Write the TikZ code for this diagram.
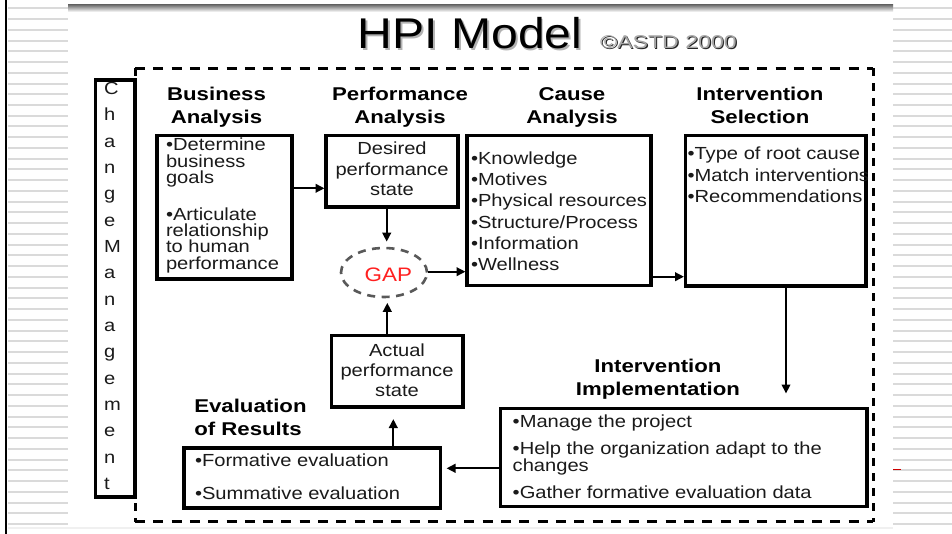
\documentclass[tikz,border=0pt]{standalone}
\usepackage{fontspec}
\setmainfont{Liberation Sans}
\newfontfamily\bodyf[FakeStretch=1.15]{Liberation Sans}
\newfontfamily\headf[FakeStretch=1.2]{Liberation Sans}
\newfontfamily\titlef[FakeStretch=1.12]{Liberation Sans}
\newfontfamily\astdf[FakeStretch=1.25]{Liberation Sans}
\usetikzlibrary{arrows.meta,shapes.geometric,calc}
\definecolor{txtgray}{HTML}{1A1A1A}
\definecolor{stripegray}{HTML}{DADADA}
\definecolor{gapred}{HTML}{FF2020}
\newcommand\tightls{\lineskiplimit-30pt\relax}
\begin{document}
\begin{tikzpicture}[x=1pt,y=-1pt,
  box/.style={draw=black, line width=3.2pt, inner sep=0pt, outer sep=0pt},
  body/.style={inner sep=0pt, outer sep=0pt, text=txtgray,
    font={\bodyf\fontsize{17.5}{#1}\selectfont\tightls}},
  head/.style={inner sep=0pt, outer sep=0pt, text=black, align=center,
    font={\headf\bfseries\fontsize{18.5}{23.3}\selectfont\tightls}},
  arr/.style={line width=2.3pt, -{Triangle[length=9pt,width=8.5pt]}},
  dashh/.style={line width=3pt, dash pattern=on 10pt off 8.3pt},
  dashv/.style={line width=3pt, dash pattern=on 8pt off 7pt},
  stripe/.style={line width=2pt, stripegray}
]
\useasboundingbox (0,0) rectangle (952,534);
\fill[white] (0,0) rectangle (952,534);

% ---- background frame ----
\fill[black] (4.8,0) rectangle (7.2,534);
\foreach \i in {0,...,48} {
  \draw[stripe] (8,{8.3+10.745*\i}) -- (68,{8.3+10.745*\i});
  \draw[stripe] (893,{8.3+10.745*\i}) -- (952,{8.3+10.745*\i});
}
\shade[top color=black!55, bottom color=white] (68,5) rectangle (893,12);
\draw[line width=1.2pt, gray!12] (8,528) -- (893,528);
\draw[line width=1pt, red!80!black] (893,469) -- (901,469);

% ---- title ----
\node[anchor=base, inner sep=0pt, text=gray!60, font=\titlef\fontsize{43}{48}\selectfont] (titlesh) at (471.8,50.1) {HPI Model};
\node[anchor=base, inner sep=0pt, text=black, font=\titlef\fontsize{43}{48}\selectfont] (title) at (470,48.3) {HPI Model};
\node[anchor=base west, inner sep=0pt, text=black!85, font=\astdf\fontsize{18.5}{20}\selectfont] (astdsh) at (601.1,49.4) {©ASTD 2000};
\node[anchor=base west, inner sep=0pt, text=gray!70, font=\astdf\fontsize{18.5}{20}\selectfont] (astd) at (600,48.3) {©ASTD 2000};

% ---- dashed frame ----
\draw[dashh] (135,68.3) -- (873.3,68.3);
\draw[dashh] (135,521.7) -- (873.3,521.7);
\draw[dashv] (873.3,68.3) -- (873.3,521.7);
\draw[dashv] (135,68.3) -- (135,521.7);

% ---- change management ----
\node[box, line width=3.3pt, fill=white, minimum width=39.5pt, minimum height=417pt] (cm) at (115.25,288.5) {};
\node[body=26.33, anchor=north west, align=left] (cmtxt) at (104,82.4)
  {C\\h\\a\\n\\g\\e\\M\\a\\n\\a\\g\\e\\m\\e\\n\\t};

% ---- headers ----
\node[head, anchor=north] (hba) at (216.5,87.2) {Business\\Analysis};
\node[head, anchor=north] (hpa) at (400,87.2) {Performance\\Analysis};
\node[head, anchor=north] (hca) at (572,87.2) {Cause\\Analysis};
\node[head, anchor=north] (his) at (760,87.2) {Intervention\\Selection};
\node[head, anchor=north] (him) at (658,358.8) {Intervention\\Implementation};
\node[head, anchor=north west, align=left] (hev) at (194.3,398.8) {Evaluation\\of Results};

% ---- boxes ----
\node[box, minimum width=135pt, minimum height=143.5pt] (ba) at (224.5,207.25) {};
\node[box, minimum width=132pt, minimum height=71.5pt] (ds) at (392,171.25) {};
\node[box, minimum width=184pt, minimum height=150pt] (ca) at (559,210.5) {};
\node[box, minimum width=180.5pt, minimum height=150.5pt] (is) at (775.75,210.75) {};
\node[box, minimum width=131.5pt, minimum height=71.5pt] (ac) at (397.25,371.25) {};
\node[box, minimum width=256.5pt, minimum height=60pt] (ev) at (312.25,478) {};
\node[box, minimum width=366.5pt, minimum height=98pt] (im) at (683.75,457.5) {};
\node[ellipse, draw=black!65, line width=2.6pt, dash pattern=on 8pt off 6.5pt,
      minimum width=86pt, minimum height=49pt, inner sep=0pt] (gap) at (384,272.5) {};

% ---- box texts ----
\node[body=16.4, anchor=north west, align=left] (batxt) at (166,138)
  {•Determine\\business\\goals\\[20.3pt]•Articulate\\relationship\\to human\\performance};
\node[body=20.3, anchor=north, align=center] (dstxt) at (392,142.2)
  {Desired\\performance\\state};
\node[body=21.3, anchor=north west, align=left] (catxt) at (471,151.5)
  {•Knowledge\\•Motives\\•Physical resources\\•Structure/Process\\•Information\\•Wellness};
\node[body=21.3, anchor=north west, align=left] (istxt) at (687.5,147.2)
  {•Type of root cause\\•Match interventions\\•Recommendations};
\node[body=19.8, anchor=north, align=center] (actxt) at (397,343.9)
  {Actual\\performance\\state};
\node[body=32.6, anchor=north west, align=left] (evtxt) at (195,453.9)
  {•Formative evaluation\\•Summative evaluation};
\node[body=16.7, anchor=north west, align=left] (imtxt) at (512.7,414.5)
  {•Manage the project\\[11pt]•Help the organization adapt to the\\changes\\[10pt]•Gather formative evaluation data};
\node[anchor=base, inner sep=0pt, text=gapred, font=\bodyf\fontsize{19.5}{22}\selectfont] (gaptxt) at (388.3,281.7) {GAP};

% ---- connectors ----
\coordinate (yA) at (0,188.3);
\coordinate (xB) at (386.7,0);
\coordinate (yC) at (0,271.7);
\coordinate (xD) at (387.3,0);
\coordinate (xE) at (393.3,0);
\coordinate (yF) at (0,276.7);
\coordinate (xG) at (786,0);
\coordinate (yH) at (0,468.3);
\draw[arr, shorten >=1.5pt] (ba.east |- yA) -- (ds.west |- yA);
\draw[arr, shorten >=5pt] (ds.south -| xB) -- (gap.north -| xB);
\draw[arr, shorten >=1.5pt] (gap.east |- yC) -- (ca.west |- yC);
\draw[arr, shorten >=4.5pt] (ac.north -| xD) -- (gap.south -| xD);
\draw[arr, shorten >=12pt] (ev.north -| xE) -- (ac.south -| xE);
\draw[arr, shorten >=1.5pt] (ca.east |- yF) -- (is.west |- yF);
\draw[arr, shorten >=15pt] (is.south -| xG) -- (im.north -| xG);
\draw[arr, shorten >=6pt] (im.west |- yH) -- (ev.east |- yH);
\end{tikzpicture}
\end{document}
